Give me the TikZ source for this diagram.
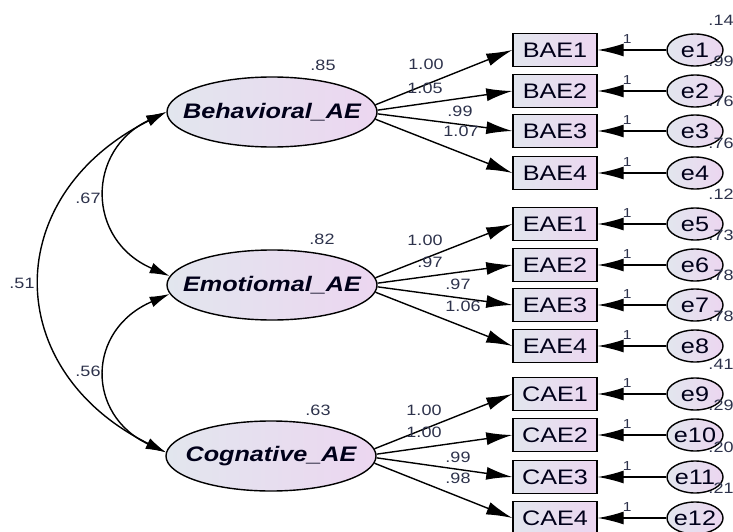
\documentclass[tikz,border=0pt]{standalone}
\usepackage{fontspec}
\setmainfont{Liberation Sans}
\newfontfamily\amos[FakeStretch=1.2]{Liberation Sans}
\usepackage{tikz}
\usetikzlibrary{calc, shapes.geometric, arrows.meta}
\definecolor{aeleft}{RGB}{226,230,238}
\definecolor{aeright}{RGB}{236,214,240}
\definecolor{numcol}{RGB}{45,50,75}

\begin{document}
\begin{tikzpicture}[x=1pt, y=-1pt,
  latent/.style={ellipse, draw, line width=1.4pt, minimum width=210pt, minimum height=70pt, inner xsep=-30pt, inner ysep=0pt, left color=aeleft, right color=aeright, font=\amos\fontsize{21}{21}\selectfont\bfseries\itshape, text=black!90!blue},
  obs/.style={rectangle, draw, line width=1.4pt, minimum width=84pt, minimum height=33pt, inner sep=0pt, left color=aeleft, right color=aeright, font=\amos\fontsize{21}{21}\selectfont, text=black!90!blue},
  err/.style={ellipse, draw, line width=1.4pt, minimum width=56pt, minimum height=32pt, inner xsep=-8pt, inner ysep=0pt, left color=aeleft, right color=aeright, font=\amos\fontsize{21}{21}\selectfont, text=black!90!blue},
  path/.style={-{Latex[length=26pt, width=13pt]}, line width=1.4pt},
  cov/.style={{Latex[length=20pt, width=11pt]}-{Latex[length=20pt, width=11pt]}, line width=1.4pt},
  num/.style={font=\amos\fontsize{15}{15}\selectfont, text=numcol, inner sep=1pt}]
\useasboundingbox (0,0) rectangle (733,532);

% latent factors
\node[latent] (BAE) at (272,112) {Behavioral\_AE};
\node[latent] (EAE) at (272,285) {Emotiomal\_AE};
\node[latent] (CAE) at (271,456) {Cognative\_AE};
\node[num] (vB) at (323,65) {.85};
\node[num] (vE) at (322,239) {.82};
\node[num] (vC) at (318,410) {.63};

% indicators with their errors
\foreach \i/\lab/\y in {1/BAE1/50, 2/BAE2/91, 3/BAE3/131, 4/BAE4/173,
    5/EAE1/224, 6/EAE2/265, 7/EAE3/305, 8/EAE4/346,
    9/CAE1/394, 10/CAE2/435, 11/CAE3/477, 12/CAE4/518} {
  \node[obs] (o\i) at (555,\y) {\lab};
  \node[err] (e\i) at (695,\y) {e\i};
  \draw[path] (e\i) -- (o\i) node[num, pos=0.57, above=5pt, font=\amos\fontsize{13}{13}\selectfont] (one\i) {1};
}
\foreach \i/\var in {1/.14, 2/.99, 3/.76, 4/.76, 5/.12, 6/.73, 7/.78, 8/.78, 9/.41, 10/.29, 11/.20, 12/.21}
  \node[num] (v\i) at ($(e\i)+(26,-30)$) {\var};

% loadings
\foreach \f/\a/\i/\w/\lx/\ly in {BAE/4/1/1.00/426/64, BAE/1/2/1.05/425/88, BAE/-1/3/.99/460/111, BAE/-4/4/1.07/461/131,
    EAE/4/5/1.00/425/240, EAE/1/6/.97/430/262, EAE/-1/7/.97/458/284, EAE/-4/8/1.06/463/306,
    CAE/4/9/1.00/424/410, CAE/1/10/1.00/424/432, CAE/-1/11/.99/458/457, CAE/-4/12/.98/458/478} {
  \draw[path] (\f.\a) -- (o\i.west);
  \node[num] (l\i) at (\lx,\ly) {\w};
}

% covariances
\draw[cov] (BAE.west) .. controls (86,150) and (86,240) .. (EAE.175);
\draw[cov] (EAE.185) .. controls (86,330) and (86,415) .. (CAE.178);
\draw[cov] (BAE.west) .. controls (0,195) and (0,370) .. (CAE.178);
\node[num] (c1) at (88,198) {.67};
\node[num] (c2) at (88,371) {.56};
\node[num] (c3) at (22,283) {.51};
\end{tikzpicture}
\end{document}
